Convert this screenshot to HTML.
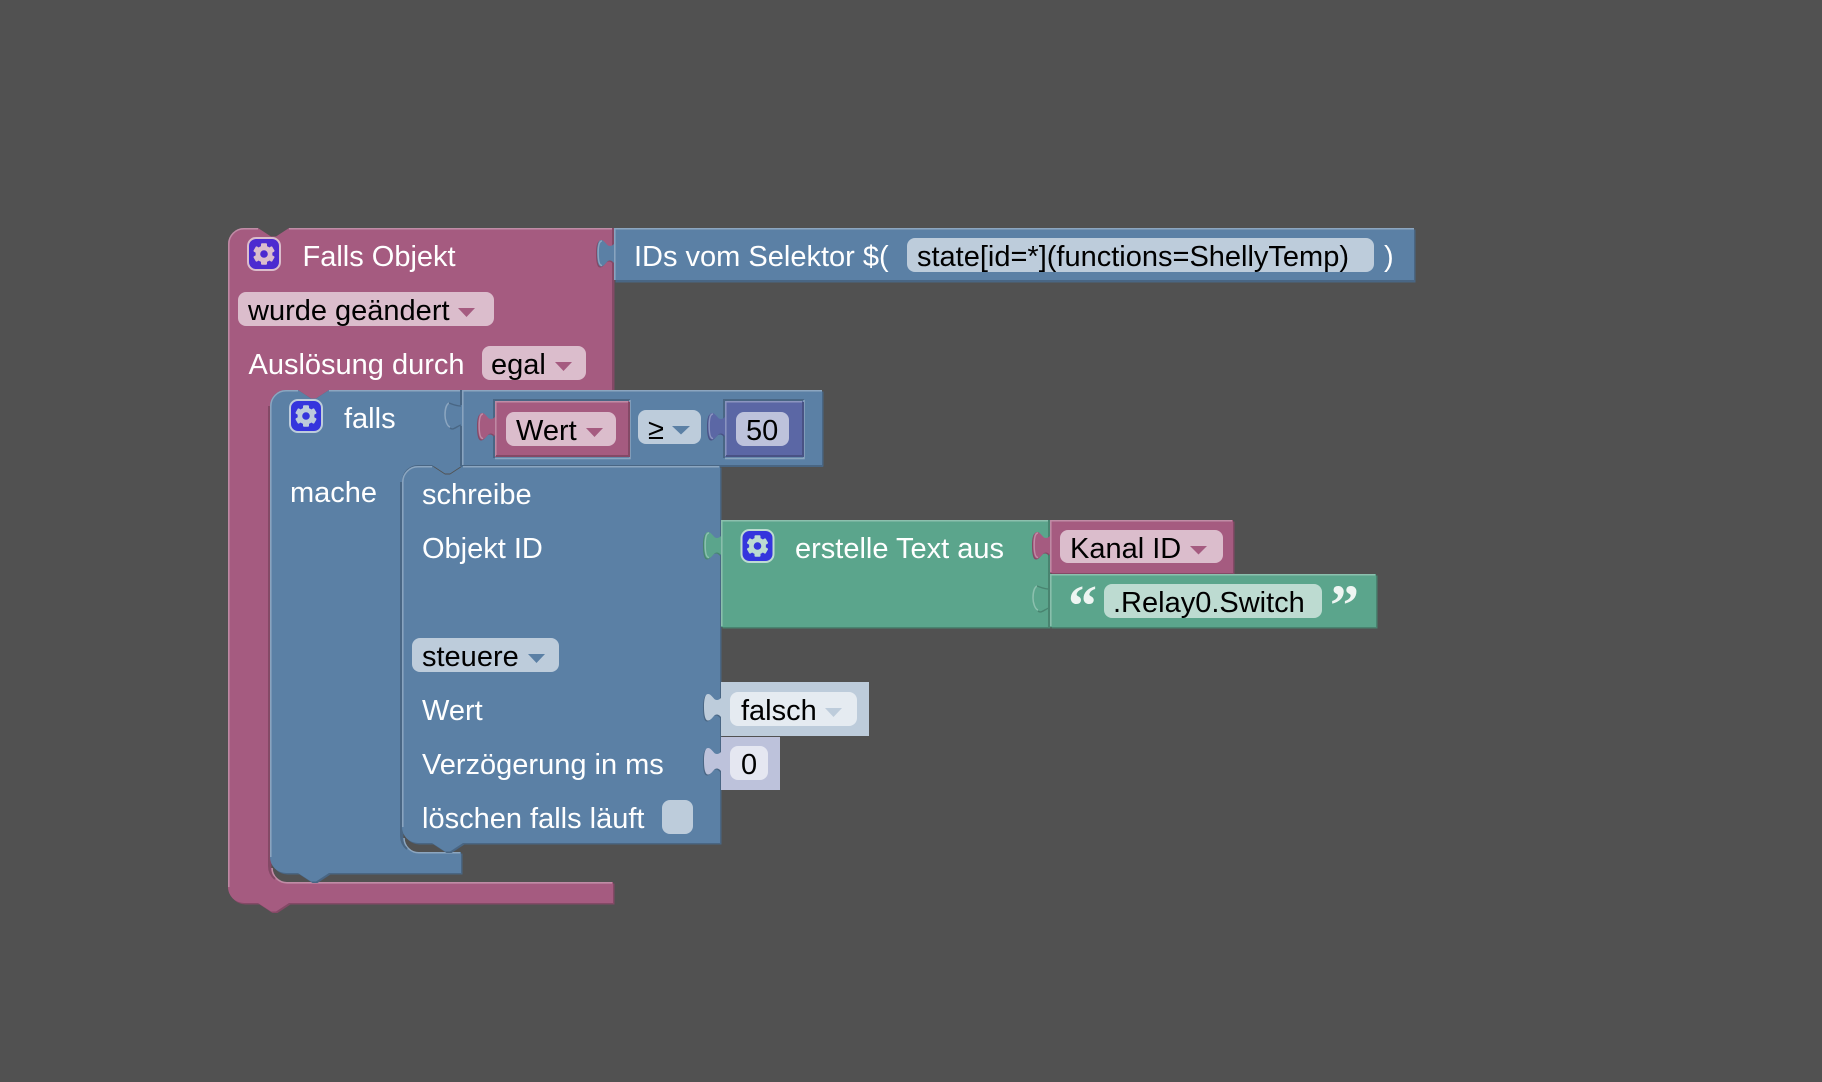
<!DOCTYPE html>
<html><head><meta charset="utf-8"><title>Blockly</title>
<style>
html,body{margin:0;padding:0;background:#515151;width:1822px;height:1082px;overflow:hidden}
svg{display:block;position:absolute;left:0;top:0}
text{font-family:"Liberation Sans",sans-serif;font-size:29px;white-space:pre}
.w{fill:#fff}.k{fill:#000}
</style></head><body>
<svg width="1822" height="1082" viewBox="0 0 1822 1082" xmlns="http://www.w3.org/2000/svg">
<defs>
<path id="tab" d="M0,16 C-2,18 -4,18.5 -6,17.5 C-8,16 -10,12 -13,12 C-16,12 -17,18 -17,25 C-17,32 -16,38.5 -13,38.5 C-10,38.5 -8,34.5 -6,33 C-4,32 -2,32.5 0,35 Z"/>
<path id="tabedge" d="M-12,13 C-15,13 -15.8,19 -15.8,25 C-15.8,31 -15,37.5 -12,37.5" fill="none"/>
<g id="gear">
<circle r="8.4" fill="currentColor"/>
<g fill="currentColor">
<rect x="-3" y="-10.8" width="6" height="21.6" rx="1"/>
<rect x="-3" y="-10.8" width="6" height="21.6" rx="1" transform="rotate(60)"/>
<rect x="-3" y="-10.8" width="6" height="21.6" rx="1" transform="rotate(120)"/>
</g>
<circle r="3.8" fill="var(--h)"/>
</g>
</defs>

<rect width="1822" height="1082" fill="#515151"/>

<!-- pink outer block -->
<path fill="#844966" transform="translate(1.5,1.5)" d="M228,244 A16,16 0 0 1 244,228 H258 l13,8.5 5,0 13,-8.5 H613 V390 H286 A16,16 0 0 0 270,406 V866 A16,16 0 0 0 286,882 H613 V903 H289 l-13,8.5 -5,0 -13,-8.5 H244 A16,16 0 0 1 228,887 Z"/>
<path fill="#a55b80" d="M228,244 A16,16 0 0 1 244,228 H258 l13,8.5 5,0 13,-8.5 H613 V390 H329 l-13,8.5 -5,0 -13,-8.5 H286 A16,16 0 0 0 270,406 V866 A16,16 0 0 0 286,882 H613 V903 H289 l-13,8.5 -5,0 -13,-8.5 H244 A16,16 0 0 1 228,887 Z"/>
<path fill="none" stroke="#c08ca6" stroke-width="1.5" d="M228.8,887 V244 A15.2,15.2 0 0 1 244,228.8 H258 M289,228.8 H612"/>
<path fill="none" stroke="#c08ca6" stroke-width="1.6" d="M272,868 A15,15 0 0 0 287,882.8 H612"/>
<path fill="none" stroke="#844966" stroke-width="2" d="M269,406 V866 A17,17 0 0 0 275,879 M613,228 V390"/>

<!-- IDs block -->
<rect x="615.5" y="229.5" width="800" height="53" fill="#496684"/>
<rect x="614" y="228" width="800" height="52" fill="#5b80a5"/>
<path fill="none" stroke="#8ca6c0" stroke-width="1.5" d="M614.8,280 V228.8 H1414"/>
<use href="#tab" x="613" y="229" fill="#844966"/>
<use href="#tab" x="614" y="228" fill="#5b80a5"/>
<use href="#tabedge" x="614" y="228" stroke="#8ca6c0" stroke-width="1.4"/>
<rect x="907" y="238" width="467" height="34" rx="8" fill="#bdccdb"/>

<!-- falls block -->
<path fill="#496684" transform="translate(1.5,1.5)" d="M270,406 A16,16 0 0 1 286,390 H298 l13,8.5 5,0 13,-8.5 H462 V465 H418 A16,16 0 0 0 402,481 V836 A16,16 0 0 0 418,852 H461 V873 H329 l-13,8.5 -5,0 -13,-8.5 H286 A16,16 0 0 1 270,857 Z"/>
<path fill="#5b80a5" d="M270,406 A16,16 0 0 1 286,390 H298 l13,8.5 5,0 13,-8.5 H462 V465 H463 l-13,8.5 -5,0 -13,-8.5 H418 A16,16 0 0 0 402,481 V836 A16,16 0 0 0 418,852 H461 V873 H329 l-13,8.5 -5,0 -13,-8.5 H286 A16,16 0 0 1 270,857 Z"/>
<path fill="none" stroke="#8ca6c0" stroke-width="1.5" d="M270.8,857 V406 A15.2,15.2 0 0 1 286,390.8 H298 M329,390.8 H461"/>
<path fill="none" stroke="#8ca6c0" stroke-width="1.5" d="M404,838 A15,15 0 0 0 419,852.8 H460"/>
<path fill="none" stroke="#496684" stroke-width="2" d="M401,482 V836 A17,17 0 0 0 407,849"/>

<!-- compare block -->
<rect x="463.5" y="391.5" width="360" height="75" fill="#496684"/>
<rect x="462" y="390" width="360" height="75" fill="#5b80a5"/>
<path fill="none" stroke="#8ca6c0" stroke-width="1.5" d="M462.8,465 V390.8 H822"/>
<path fill="none" stroke="#496684" stroke-width="2" d="M461,390 V405 M461,426 V466 M461,466 H823"/>
<path fill="none" stroke="#8ca6c0" stroke-width="1.5" d="M449,403 C445.5,405 445,412 445,415 C445,420 447,426 450,427"/>
<path fill="none" stroke="#496684" stroke-width="1.4" d="M449,403 C452,404 456,406 461,406 M450,428 C453,431 457,426 461,425"/>

<!-- holes -->
<path fill="none" stroke="#496684" stroke-width="2" d="M494,458 V400 H630"/>
<path fill="none" stroke="#8ca6c0" stroke-width="1.5" d="M495,458.5 H630 V400"/>
<path fill="none" stroke="#496684" stroke-width="2" d="M724,458 V400 H804"/>
<path fill="none" stroke="#8ca6c0" stroke-width="1.5" d="M725,458.5 H804 V400"/>

<!-- Wert value -->
<rect x="495" y="401" width="134" height="56" fill="#a55b80"/>
<path fill="none" stroke="#c08ca6" stroke-width="1.5" d="M495.8,456 V401.8 H628"/>
<path fill="none" stroke="#844966" stroke-width="2" d="M496,456 H629 V402"/>
<use href="#tab" x="494" y="402" fill="#844966"/>
<use href="#tab" x="495" y="401" fill="#a55b80"/>
<use href="#tabedge" x="495" y="401" stroke="#c08ca6" stroke-width="1.4"/>
<rect x="506" y="412" width="110" height="34" rx="8" fill="#dbbdcc"/>
<path d="M586,428 h17 l-8.5,9 Z" fill="#a55b80"/>

<!-- ≥ field -->
<rect x="638" y="410" width="63" height="34" rx="8" fill="#bdccdb"/>
<path d="M672,426 h18 l-9,8.5 Z" fill="#5b80a5"/>

<!-- 50 value -->
<rect x="725" y="401" width="78" height="56" fill="#5b67a5"/>
<path fill="none" stroke="#8c95c0" stroke-width="1.5" d="M725.8,456 V401.8 H802"/>
<path fill="none" stroke="#495284" stroke-width="2" d="M726,456 H803 V402"/>
<use href="#tab" x="724" y="402" fill="#495284"/>
<use href="#tab" x="725" y="401" fill="#5b67a5"/>
<use href="#tabedge" x="725" y="401" stroke="#8c95c0" stroke-width="1.4"/>
<rect x="736" y="412" width="53" height="34" rx="8" fill="#bdc2db"/>

<!-- schreibe block -->
<path fill="#496684" transform="translate(1.5,1.5)" d="M402,482 A16,16 0 0 1 418,466 H432 l13,8.5 5,0 13,-8.5 H720 V843 H463 l-13,8.5 -5,0 -13,-8.5 H418 A16,16 0 0 1 402,827 Z"/>
<path fill="#5b80a5" d="M402,482 A16,16 0 0 1 418,466 H432 l13,8.5 5,0 13,-8.5 H720 V843 H463 l-13,8.5 -5,0 -13,-8.5 H418 A16,16 0 0 1 402,827 Z"/>
<path fill="none" stroke="#8ca6c0" stroke-width="1.5" d="M402.8,827 V482 A15.2,15.2 0 0 1 418,466.8 H432 M463,466.8 H719"/>
<rect x="412" y="638" width="147" height="34" rx="8" fill="#bdccdb"/>
<path d="M528,654 h17 l-8.5,9 Z" fill="#5b80a5"/>
<rect x="662" y="800" width="31" height="34" rx="8" fill="#bdccdb"/>

<!-- green block -->
<rect x="722.5" y="521.5" width="328" height="107" fill="#498470"/>
<rect x="721" y="520" width="328" height="107" fill="#5ba58c"/>
<path fill="none" stroke="#8cc0ae" stroke-width="1.5" d="M721.8,626 V520.8 H1048"/>
<use href="#tab" x="720" y="521" fill="#498470"/>
<use href="#tab" x="721" y="520" fill="#5ba58c"/>
<use href="#tabedge" x="721" y="520" stroke="#8cc0ae" stroke-width="1.4"/>

<!-- Kanal ID -->
<rect x="1051.5" y="521.5" width="183" height="53" fill="#844966"/>
<rect x="1050" y="520" width="183" height="53" fill="#a55b80"/>
<path fill="none" stroke="#c08ca6" stroke-width="1.5" d="M1050.8,572 V520.8 H1232"/>
<path fill="none" stroke="#498470" stroke-width="2" d="M1049,520 V627"/>
<use href="#tab" x="1049" y="521" fill="#844966"/>
<use href="#tab" x="1050" y="520" fill="#a55b80"/>
<use href="#tabedge" x="1050" y="520" stroke="#c08ca6" stroke-width="1.4"/>
<rect x="1060" y="530" width="163" height="33" rx="8" fill="#dbbdcc"/>
<path d="M1190,546 h17 l-8.5,8.5 Z" fill="#a55b80"/>

<!-- text block -->
<rect x="1051.5" y="575.5" width="326" height="53" fill="#498470"/>
<rect x="1050" y="574" width="326" height="53" fill="#5ba58c"/>
<path fill="none" stroke="#8cc0ae" stroke-width="1.5" d="M1050.8,626 V574.8 H1375"/>
<path fill="none" stroke="#8cc0ae" stroke-width="1.5" d="M1037,586 C1033.5,588 1033,595 1033,598 C1033,603 1035,609 1038,610"/>
<path fill="none" stroke="#498470" stroke-width="1.4" d="M1037,586 C1040,587 1044,589 1049,589 M1038,611 C1041,614 1045,609 1049,608"/>
<rect x="1104" y="584" width="218" height="34" rx="8" fill="#bddbd1"/>

<!-- falsch shadow -->
<rect x="721" y="682" width="148" height="54" fill="#bdccdb"/>
<use href="#tab" x="720" y="683" fill="#496684"/>
<use href="#tab" x="721" y="682" fill="#bdccdb"/>
<rect x="730" y="692" width="127" height="34" rx="8" fill="#e5ebf1"/>
<path d="M825,708 h17 l-8.5,9 Z" fill="#bdccdb"/>

<!-- 0 shadow -->
<rect x="721" y="737" width="59" height="53" fill="#bdc2db"/>
<use href="#tab" x="720" y="737" fill="#496684"/>
<use href="#tab" x="721" y="736" fill="#bdc2db"/>
<rect x="730" y="746" width="38" height="34" rx="8" fill="#e5e7f1"/>

<!-- icons -->
<rect x="248" y="238" width="32" height="32" rx="8" fill="#4c2bd0" stroke="#dbbdcc" stroke-width="2"/>
<use href="#gear" x="264" y="254" style="color:#dbbdcc;--h:#4c2bd0"/>
<rect x="290" y="400" width="32" height="32" rx="8" fill="#3535dd" stroke="#bdccdb" stroke-width="2"/>
<use href="#gear" x="306" y="416" style="color:#bdccdb;--h:#3535dd"/>
<rect x="741.5" y="530" width="32" height="32" rx="8" fill="#3535dd" stroke="#bddbd1" stroke-width="2"/>
<use href="#gear" x="757.5" y="546" style="color:#bddbd1;--h:#3535dd"/>

<!-- labels -->
<text class="w" x="302.5" y="266">Falls Objekt</text>
<rect x="238" y="292" width="256" height="34" rx="8" fill="#dbbdcc"/>
<text class="k" x="248" y="320">wurde geändert</text>
<path d="M458,308 h17 l-8.5,9 Z" fill="#a55b80"/>
<text class="w" x="248.5" y="374">Auslösung durch</text>
<rect x="482" y="346" width="104" height="34" rx="8" fill="#dbbdcc"/>
<text class="k" x="491" y="374">egal</text>
<path d="M555,362 h17 l-8.5,9 Z" fill="#a55b80"/>
<text class="w" x="634" y="266">IDs vom Selektor $(</text>
<text class="k" x="917" y="266">state[id=*](functions=ShellyTemp)</text>
<text class="w" x="1384" y="266">)</text>
<text class="w" x="344" y="428">falls</text>
<text class="k" x="516" y="440">Wert</text>
<text class="k" x="648" y="439">≥</text>
<text class="k" x="746" y="440">50</text>
<text class="w" x="290" y="502">mache</text>
<text class="w" x="422" y="504">schreibe</text>
<text class="w" x="422" y="558">Objekt ID</text>
<text class="k" x="422" y="666">steuere</text>
<text class="w" x="422" y="720">Wert</text>
<text class="w" x="422" y="774">Verzögerung in ms</text>
<text class="w" x="422" y="828">löschen falls läuft</text>
<text class="w" x="795" y="558">erstelle Text aus</text>
<text class="k" x="1070" y="558">Kanal ID</text>
<text class="k" x="1113" y="612">.Relay0.Switch</text>
<text class="k" x="741" y="720">falsch</text>
<text class="k" x="741" y="774">0</text>
<text x="1068" y="625" style="font-family:'Liberation Serif',serif;font-weight:bold;font-size:58px;fill:#eef5f2">“</text>
<text x="1330" y="625" style="font-family:'Liberation Serif',serif;font-weight:bold;font-size:58px;fill:#eef5f2">”</text>
</svg>
</body></html>
